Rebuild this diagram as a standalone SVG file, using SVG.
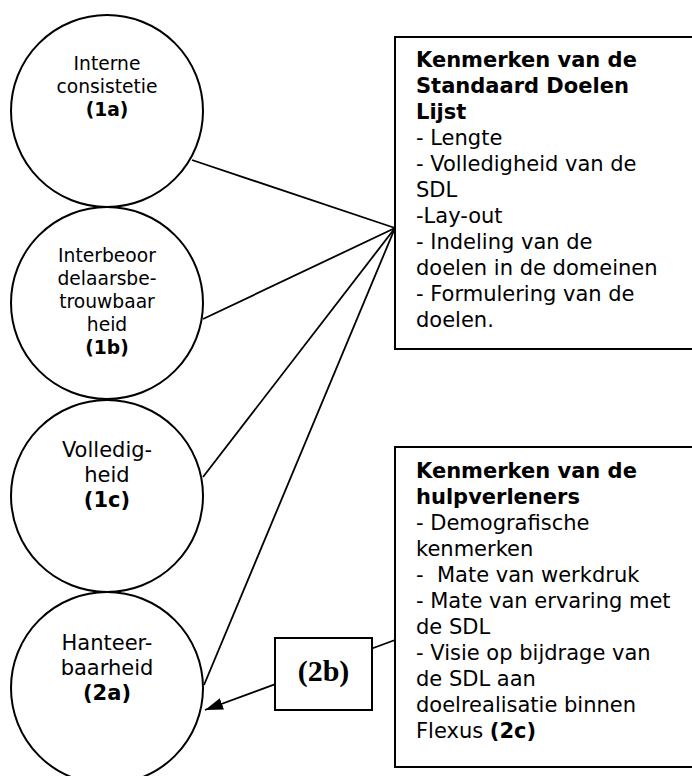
<svg xmlns="http://www.w3.org/2000/svg" width="692" height="776" viewBox="0 0 692 776">
<style>
.c{fill:#fff;stroke:#000;stroke-width:2}
.b{fill:#fff;stroke:#000;stroke-width:2}
.ln{fill:none;stroke:#000;stroke-width:1.8}
text{font-family:"DejaVu Sans","Verdana",sans-serif;fill:#000}
.ct{font-size:18.7px;text-anchor:middle}
.ct2{font-size:21px;text-anchor:middle}
.bx{font-size:21px}
.bd{font-weight:bold}
</style>
<defs>
<marker id="ah" viewBox="0 0 18 12" refX="18" refY="6" markerWidth="18" markerHeight="12" markerUnits="userSpaceOnUse" orient="auto">
<path d="M0,0 L18,6 L0,12 Z" fill="#000"/>
</marker>
</defs>
<rect width="692" height="776" fill="#fff"/>
<g id="n1a"><circle class="c" cx="107" cy="111" r="96"/>
<text class="ct" x="107" y="70">Interne</text>
<text class="ct" x="107" y="93">consistetie</text>
<text class="ct bd" x="107" y="116">(1a)</text></g>
<g id="n1b"><circle class="c" cx="107" cy="303" r="96"/>
<text class="ct" x="107" y="262">Interbeoor</text>
<text class="ct" x="107" y="285">delaarsbe-</text>
<text class="ct" x="107" y="308">trouwbaar</text>
<text class="ct" x="107" y="331">heid</text>
<text class="ct bd" x="107" y="354">(1b)</text></g>
<g id="n1c"><circle class="c" cx="107" cy="496" r="96"/>
<text class="ct2" x="107" y="457">Volledig-</text>
<text class="ct2" x="107" y="482">heid</text>
<text class="ct2 bd" x="107" y="507">(1c)</text></g>
<g id="n2a"><circle class="c" cx="107" cy="688" r="96"/>
<text class="ct2" x="107" y="650">Hanteer-</text>
<text class="ct2" x="107" y="675">baarheid</text>
<text class="ct2 bd" x="107" y="700">(2a)</text></g>
<g id="connectors">
<line class="ln" x1="192" y1="160" x2="395" y2="228"/>
<line class="ln" x1="203" y1="319" x2="395" y2="228"/>
<line class="ln" x1="203" y1="477" x2="395" y2="228"/>
<line class="ln" x1="204" y1="685" x2="395" y2="228"/>
<line class="ln" x1="395" y1="640" x2="205" y2="710" marker-end="url(#ah)"/>
</g>
<g id="sdl"><rect class="b" x="395" y="37" width="310" height="312"/>
<text class="bx bd" x="416" y="67">Kenmerken van de</text>
<text class="bx bd" x="416" y="93">Standaard Doelen</text>
<text class="bx bd" x="416" y="119">Lijst</text>
<text class="bx" x="416" y="145">- Lengte</text>
<text class="bx" x="416" y="171">- Volledigheid van de</text>
<text class="bx" x="416" y="197">SDL</text>
<text class="bx" x="416" y="223">-Lay-out</text>
<text class="bx" x="416" y="249">- Indeling van de</text>
<text class="bx" x="416" y="275">doelen in de domeinen</text>
<text class="bx" x="416" y="301">- Formulering van de</text>
<text class="bx" x="416" y="327">doelen.</text></g>
<g id="hulp"><rect class="b" x="395" y="447" width="310" height="320"/>
<text class="bx bd" x="416" y="478">Kenmerken van de</text>
<text class="bx bd" x="416" y="504">hulpverleners</text>
<text class="bx" x="416" y="530">- Demografische</text>
<text class="bx" x="416" y="556">kenmerken</text>
<text class="bx" x="416" y="582">-&#160; Mate van werkdruk</text>
<text class="bx" x="416" y="608">- Mate van ervaring met</text>
<text class="bx" x="416" y="634">de SDL</text>
<text class="bx" x="416" y="660">- Visie op bijdrage van</text>
<text class="bx" x="416" y="686">de SDL aan</text>
<text class="bx" x="416" y="712">doelrealisatie binnen</text>
<text class="bx" x="416" y="738">Flexus <tspan class="bd">(2c)</tspan></text></g>
<g id="n2b"><rect class="b" x="275" y="638" width="97" height="72"/>
<text x="323.5" y="681" text-anchor="middle" style="font-family:'Liberation Serif','Times New Roman',serif;font-weight:bold;font-size:30px">(2b)</text></g>
</svg>
